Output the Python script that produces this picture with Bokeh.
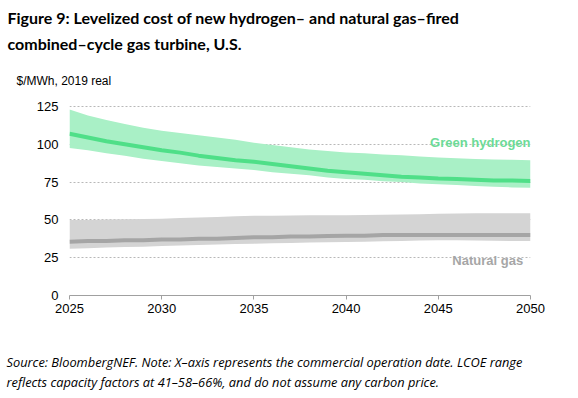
from bokeh.plotting import figure
from bokeh.models import Label, Range1d, FixedTicker, ColumnDataSource, Title
from bokeh.embed import file_html
from bokeh.resources import INLINE

years = list(range(2025, 2051))
h2_mid = [107, 104.5, 102, 100, 98, 96, 94.5, 92.5, 91, 89.5, 88.4, 87, 85.5, 84, 82.5,
          81.5, 80.5, 79.5, 78.5, 78, 77.4, 77, 76.5, 76, 76, 75.8]
h2_high = [123, 119, 116, 113.5, 111, 109, 107.5, 106, 104.5, 103, 101, 99.5, 98, 96.5, 95.5,
           94.6, 94, 93.3, 92.7, 92, 91.3, 90.8, 90.3, 90, 89.7, 89.5]
h2_low = [97.5, 96, 94, 92.5, 90.5, 89, 87.5, 86, 85, 84, 83, 81.5, 80.5, 79.5, 78,
          77, 76.5, 75.5, 75, 74, 73.6, 73, 72.5, 72, 71.5, 71.2]
gas_mid = [35.5, 36, 36, 36.5, 36.5, 37, 37, 37.5, 37.5, 38, 38.5, 38.5, 39, 39, 39.3,
           39.5, 39.5, 40, 40, 40, 40, 40, 40, 40, 40, 40]
gas_high = [50, 50, 50.2, 50.4, 50.6, 50.8, 51.2, 51.6, 52, 52.4, 52.7, 52.8, 52.9, 53, 53,
            53, 53.2, 53.4, 53.6, 53.8, 54, 54.2, 54.4, 54.4, 54.4, 54.4]
gas_low = [31, 31.3, 31.7, 32, 32.3, 32.7, 33, 33.4, 33.8, 34, 34.3, 34.5, 34.8, 35, 35.2,
           35.4, 35.6, 35.8, 36, 36.3, 36.5, 36.5, 36.4, 36.2, 36.1, 36]
x_ticks = [2025, 2030, 2035, 2040, 2045, 2050]
y_ticks = [0, 25, 50, 75, 100, 125]

title_lines = ["Figure 9: Levelized cost of new hydrogen\u2013 and natural gas\u2013fired",
               "combined\u2013cycle gas turbine, U.S."]
unit_text = "$/MWh, 2019 real"
footer_lines = ["Source: BloombergNEF. Note: X\u2013axis represents the commercial operation date. LCOE range",
                "reflects capacity factors at 41\u201358\u201366%, and do not assume any carbon price."]

# header stack geometry (pixels); a title panel is 2 + text height + standoff tall
SP_TOP, S1, S2, SP_MID, S3 = 3, 3, 6, 9, 8
H_TITLE, H_UNIT, H_SP = 19.5, 13.8, 1.2
FRAME_TOP = ((2 + H_SP + SP_TOP) + (2 + H_TITLE + S1) + (2 + H_TITLE + S2)
             + (2 + H_SP + SP_MID) + (2 + H_UNIT + S3))
FRAME_BOTTOM = 296
PX_PER_UNIT = 189 / 125
FH = int(round(FRAME_BOTTOM - FRAME_TOP))
Y_END = FH / PX_PER_UNIT

src = ColumnDataSource(dict(x=years, h2_mid=h2_mid, h2_high=h2_high, h2_low=h2_low,
                            gas_mid=gas_mid, gas_high=gas_high, gas_low=gas_low))

p = figure(frame_width=461, frame_height=FH, output_backend="svg", toolbar_location=None,
           x_range=Range1d(2025, 2050), y_range=Range1d(0, Y_END),
           min_border_left=69, min_border_right=40, min_border_top=0, min_border_bottom=0)
p.outline_line_color = None

p.xgrid.grid_line_color = None
p.ygrid.ticker = FixedTicker(ticks=[25, 50, 75, 100, 125])
p.ygrid.grid_line_color = "#b8b8b8"
p.ygrid.grid_line_dash = "2 2"
p.ygrid.grid_line_width = 1

p.varea(x="x", y1="h2_low", y2="h2_high", source=src, fill_color="#a9f0c6", fill_alpha=1)
p.varea(x="x", y1="gas_low", y2="gas_high", source=src, fill_color="#d4d4d4", fill_alpha=1)
p.line(x="x", y="h2_mid", source=src, line_color="#4fdf88", line_width=4)
p.line(x="x", y="gas_mid", source=src, line_color="#a5a5a5", line_width=4)

p.xaxis.ticker = FixedTicker(ticks=x_ticks)
p.xaxis.axis_line_color = "#a0a0a0"
p.xaxis.major_tick_line_color = "#a0a0a0"
p.xaxis.major_tick_in = 0
p.xaxis.major_tick_out = 4
p.xaxis.minor_tick_line_color = None
p.xaxis.major_label_text_font = "Liberation Sans"
p.xaxis.major_label_text_font_size = "13px"
p.xaxis.major_label_text_color = "#000000"
p.xaxis.major_label_standoff = 4

p.yaxis.ticker = FixedTicker(ticks=y_ticks)
p.yaxis.axis_line_color = None
p.yaxis.major_tick_line_color = None
p.yaxis.minor_tick_line_color = None
p.yaxis.major_tick_out = 0
p.yaxis.major_tick_in = 0
p.yaxis.major_label_text_font = "Liberation Sans"
p.yaxis.major_label_text_font_size = "13px"
p.yaxis.major_label_text_color = "#000000"
p.yaxis.major_label_standoff = 11

p.add_layout(Label(x=2050, y=101, text="Green hydrogen", text_align="right",
                   text_baseline="alphabetic", text_font="Liberation Sans",
                   text_font_style="bold", text_font_size="13px", text_color="#6cdb97"))
p.add_layout(Label(x=2049.6, y=23.4, text="Natural gas", text_align="right",
                   text_baseline="alphabetic", text_font="Liberation Sans",
                   text_font_style="bold", text_font_size="13px", text_color="#a6a6a6"))

def spacer(s):
    return Title(text=" ", standoff=s, text_font_size="1px", text_color="#ffffff")

# header (closest to frame first)
p.add_layout(Title(text=unit_text, align="left", offset=-53, standoff=S3, vertical_align="top",
                   text_font="Liberation Sans", text_font_style="normal",
                   text_font_size="12px", text_color="#000000"), "above")
p.add_layout(spacer(SP_MID), "above")
p.add_layout(Title(text=title_lines[1], align="left", offset=-62, standoff=S2, vertical_align="top",
                   text_font="Lato", text_font_style="bold",
                   text_font_size="16px", text_color="#000000"), "above")
p.add_layout(Title(text=title_lines[0], align="left", offset=-62, standoff=S1, vertical_align="top",
                   text_font="Lato", text_font_style="bold",
                   text_font_size="16px", text_color="#000000"), "above")
p.add_layout(spacer(SP_TOP), "above")

# footer (after the x axis)
p.add_layout(spacer(34), "below")
p.add_layout(Title(text=footer_lines[0], align="left", offset=-63, standoff=0, vertical_align="top",
                   text_font="Open Sans", text_font_style="italic",
                   text_font_size="12.8px", text_color="#000000"), "below")
p.add_layout(Title(text=footer_lines[1], align="left", offset=-63, standoff=0, vertical_align="top",
                   text_font="Open Sans", text_font_style="italic",
                   text_font_size="12.8px", text_color="#000000"), "below")

open("out.html", "w").write(file_html(p, INLINE))
